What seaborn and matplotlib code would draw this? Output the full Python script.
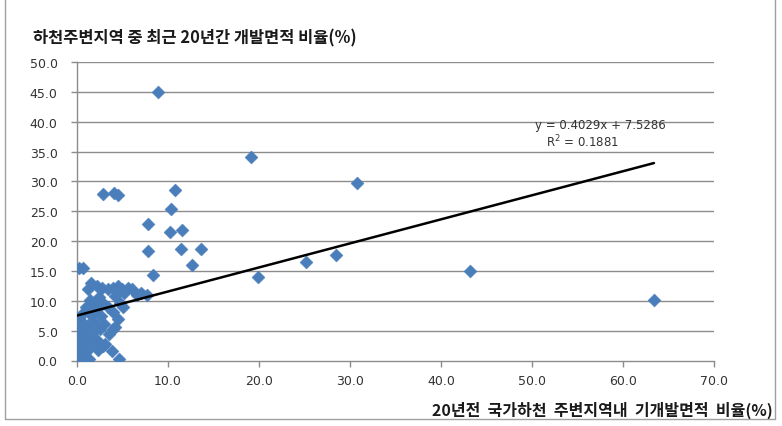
import matplotlib
matplotlib.use("Agg")
import matplotlib.pyplot as plt
from matplotlib.lines import Line2D
import numpy as np
import pandas as pd
import seaborn as sns

# ---- data ----
x_vals = [8.9, 19.1, 30.8, 43.2, 63.4, 25.2, 28.5, 19.9, 10.8, 10.3, 7.8, 10.2, 11.5,
          13.6, 11.4, 12.6, 7.8, 8.4, 2.9, 4.1, 4.5, 0.2, 0.7,
          1.5, 2.2, 1.2, 2.7, 3.4, 4.0, 4.5, 4.9, 6.0, 7.0, 7.7, 5.2, 4.2, 2.4, 1.4, 1.8,
          2.8, 4.7, 1.0, 2.2, 3.4, 4.0, 0.7, 0.2, 1.5, 2.6, 4.5, 0.5, 1.2, 2.0, 3.0, 4.0,
          0.1, 0.9, 1.7, 2.5, 4.2, 0.4, 1.1, 2.2, 3.1, 0.05, 0.7, 1.5, 2.3, 0.2, 1.0, 0.0,
          0.4, 1.3, 3.8, 4.6, 2.9, 1.8, 3.5, 5.1, 5.6, 6.6]
y_vals = [45.0, 34.1, 29.8, 15.0, 10.2, 16.5, 17.7, 14.0, 28.5, 25.3, 22.8, 21.6, 21.9,
          18.7, 18.7, 16.0, 18.4, 14.3, 27.9, 28.0, 27.7, 15.5, 15.5,
          12.9, 12.4, 12.0, 12.2, 11.9, 12.1, 12.4, 12.0, 11.9, 11.3, 11.0, 11.3, 10.8, 10.6,
          10.2, 9.6, 9.8, 9.7, 9.0, 8.7, 8.9, 8.2, 8.0, 7.2, 7.6, 7.4, 6.9, 6.4, 6.0, 6.3,
          6.1, 5.2, 5.4, 5.0, 4.6, 5.2, 5.6, 4.1, 3.7, 3.5, 2.7, 3.3, 2.8, 2.4, 1.8, 1.9,
          1.4, 0.8, 0.3, 0.2, 1.6, 0.2, 2.4, 3.1, 4.4, 9.0, 12.2, 11.0]
slope = 0.4029
intercept = 7.5286
r_squared = 0.1881
x_ticks = [0, 10, 20, 30, 40, 50, 60, 70]
y_ticks = [0, 5, 10, 15, 20, 25, 30, 35, 40, 45, 50]
title = "하천주변지역 중 최근 20년간 개발면적 비율(%)"
x_label = "20년전  국가하천  주변지역내  기개발면적  비율(%)"

df = pd.DataFrame({"x": x_vals, "y": y_vals})

sns.set_style("white")
plt.rcParams["font.family"] = ["DejaVu Sans", "Noto Sans CJK KR"]

W, H = 782, 427
fig = plt.figure(figsize=(W / 100, H / 100), dpi=100)
left, right, top, bottom = 77, 714, 63, 361.5
ax = fig.add_axes([left / W, 1 - bottom / H, (right - left) / W, (bottom - top) / H])

grid_c = "#8c8c8c"
for yt in y_ticks[1:]:
    ax.axhline(yt, color=grid_c, lw=1.0, zorder=0)

sns.scatterplot(data=df, x="x", y="y", marker="D", s=44, color="#4A7EBB",
                edgecolor="#4A7EBB", linewidth=0.3, ax=ax, zorder=3)

xmax = max(x_vals)
xs = np.array([0.0, xmax])
ax.plot(xs, slope * xs + intercept, color="black", lw=1.8, zorder=4)

ax.set_xlim(0, 70)
ax.set_ylim(0, 50)
ax.set_xticks(x_ticks)
ax.set_yticks(y_ticks)
ax.set_xticklabels([f"{v:.1f}" for v in x_ticks])
ax.set_yticklabels([f"{v:.1f}" for v in y_ticks])
ax.tick_params(axis="both", direction="out", length=4, width=1, color=grid_c,
               labelsize=9, labelcolor="#333333", bottom=True, left=True)
ax.tick_params(axis="y", pad=10)
ax.tick_params(axis="x", pad=6)
ax.set_xlabel("")
ax.set_ylabel("")
for s in ["top", "right"]:
    ax.spines[s].set_visible(False)
for s in ["left", "bottom"]:
    ax.spines[s].set_color(grid_c)
    ax.spines[s].set_linewidth(1.0)

fig.text(600 / W, 1 - 125 / H, f"y = {slope}x + {intercept}", ha="center", va="center",
         fontsize=8.5, color="#333333")
fig.text(583 / W, 1 - 142 / H, f"R$^2$ = {r_squared}", ha="center", va="center",
         fontsize=8.5, color="#333333")

fig.text(33 / W, 1 - 38 / H, title, ha="left", va="center", fontsize=11.8,
         fontweight="bold", color="#1a1a1a", family=["Noto Sans CJK KR", "DejaVu Sans"])
fig.text(773 / W, 1 - 410 / H, x_label, ha="right", va="center", fontsize=11.5,
         fontweight="bold", color="#1a1a1a", family=["Noto Sans CJK KR", "DejaVu Sans"])

frame_c = "#a0a0a0"
fl, fr, fb = 5 / W, 775 / W, 1 - 420 / H
fig.add_artist(Line2D([fl, fl], [fb, 1.0], color=frame_c, lw=1, transform=fig.transFigure))
fig.add_artist(Line2D([fr, fr], [fb, 1.0], color=frame_c, lw=1, transform=fig.transFigure))
fig.add_artist(Line2D([fl, fr], [fb, fb], color=frame_c, lw=1, transform=fig.transFigure))

fig.savefig("out.png", dpi=100)
